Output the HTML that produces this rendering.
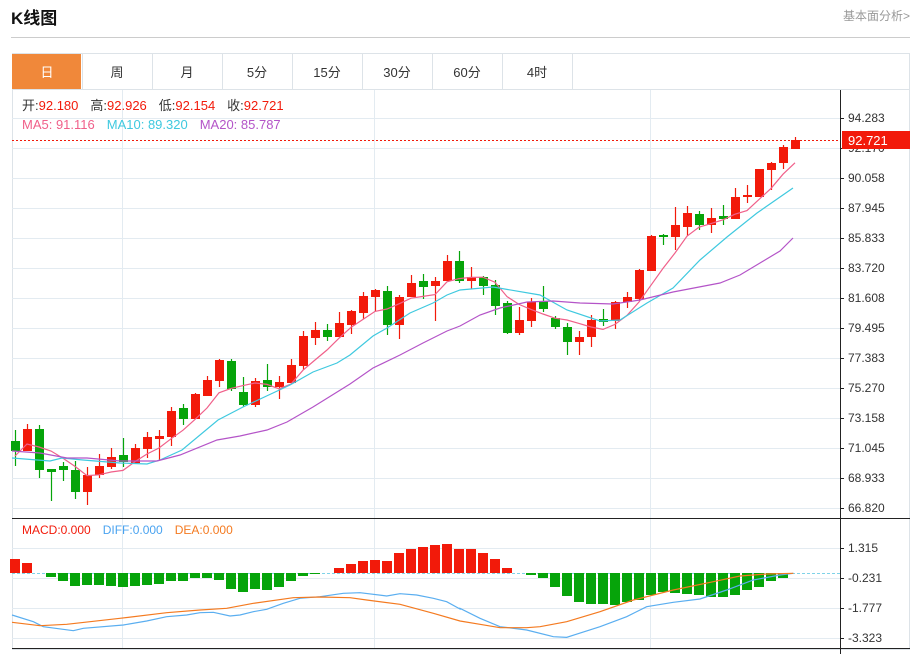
<!DOCTYPE html>
<html><head><meta charset="utf-8"><style>
body{margin:0;background:#fff;width:920px;height:654px;overflow:hidden;font-family:"Liberation Sans","Noto Sans CJK SC",sans-serif;}
</style></head><body>
<svg id="s" width="920" height="654" xmlns="http://www.w3.org/2000/svg" style="position:absolute;left:0;top:0">
<text x="11" y="24" font-size="17" font-weight="bold" fill="#111" font-family="Liberation Sans,Noto Sans CJK SC,sans-serif">K线图</text>
<text x="843" y="20" font-size="12" fill="#999" font-family="Liberation Sans,Noto Sans CJK SC,sans-serif">基本面分析&gt;</text>
<line x1="11" y1="37.5" x2="910" y2="37.5" stroke="#ccc"/>
<rect x="12.5" y="53.5" width="897" height="596" fill="none" stroke="#dde3e8"/>
<rect x="12" y="54" width="69" height="35" fill="#f0883a"/>
<line x1="12" y1="89.5" x2="910" y2="89.5" stroke="#dde3e8"/>
<g id="g"></g>
</svg>
<script>
var g=document.getElementById('g'),h='';
function L(x1,y1,x2,y2,c,w,d){h+='<line x1="'+x1+'" y1="'+y1+'" x2="'+x2+'" y2="'+y2+'" stroke="'+c+'" stroke-width="'+(w||1)+'"'+(d?' stroke-dasharray="'+d+'"':'')+'/>';}
function T(x,y,t,c,s,a){h+='<text x="'+x+'" y="'+y+'" font-size="'+(s||12)+'" fill="'+c+'"'+(a?' text-anchor="'+a+'"':'')+' font-family="Liberation Sans,Noto Sans CJK SC,sans-serif">'+t+'</text>';}
function P(pts,c){h+='<polyline fill="none" stroke="'+c+'" stroke-width="1.2" points="'+pts.map(function(p){return p.join(',')}).join(' ')+'"/>';}
var tabs=['日','周','月','5分','15分','30分','60分','4时'];
for(var i=0;i<8;i++){var x=12+70*i;if(i>0)L(x+0.5,54,x+0.5,89,'#dde3e8');T(x+35,77,tabs[i],i==0?'#fff':'#333',13,'middle');}
L(572.5,54,572.5,89,'#dde3e8');
// grid
for(var y=118;y<=508;y+=30)L(12,y+.5,840,y+.5,'#e3ebf1');
for(var y=548;y<=638;y+=30)L(12,y+.5,840,y+.5,'#e3ebf1');
[122,374,650].forEach(function(x){L(x+.5,90,x+.5,649,'#e3ebf1');});
L(840.5,90,840.5,654,'#222');L(12,518.5,840,518.5,'#222');L(12,648.5,910,648.5,'#222');L(840,518.5,910,518.5,'#222');
var labs=['94.283','92.170','90.058','87.945','85.833','83.720','81.608','79.495','77.383','75.270','73.158','71.045','68.933','66.820'];
labs.forEach(function(t,k){var y=118+30*k;L(840,y+.5,844,y+.5,'#222');T(848,y+4,t,'#333',12);});
['1.315','-0.231','-1.777','-3.323'].forEach(function(t,k){var y=548+30*k;L(840,y+.5,844,y+.5,'#222');T(848,y+4,t,'#333',12);});
// candles [o,c,h,l]
var C=[[441,451,430,466],[451,429,424,451],[429,470,425,478],[470,471,469,501],[466,470,462,481],[470,492,461,499],[492,475,467,505],[475,466,454,478],[467,457,448,469],[455,462,438,467],
[463,448,444,463],[449,437,432,458],[439,436,430,460],[437,411,407,446],[408,419,404,425],[419,394,393,419],[396,380,376,396],[381,360,359,387],[361,389,359,391],[392,405,377,407],
[405,381,378,407],[380,387,364,391],[387,382,376,399],[383,365,359,383],[366,336,331,370],[338,330,322,345],[330,337,324,341],[337,323,312,337],[325,311,310,334],[313,296,292,319],
[297,290,289,311],[291,325,286,335],[325,297,295,339],[297,283,275,297],[281,287,274,299],[286,281,277,321],[281,261,255,281],[261,281,251,283],[281,277,267,289],[277,286,276,295],
[285,306,280,315],[303,333,301,334],[333,320,307,335],[321,302,298,327],[301,309,286,312],[318,327,316,329],[327,342,323,355],[342,337,331,355],[337,320,315,347],[320,321,309,326],
[321,302,301,329],[302,297,292,308],[299,270,269,301],[271,236,235,271],[235,237,234,245],[237,225,207,250],[227,213,206,236],[214,225,211,230],[225,218,208,233],[217,218,205,225],
[219,197,188,219],[197,195,185,203],[197,169,169,197],[170,163,162,190],[163,147,145,169],[149,140,137,149]];
C.forEach(function(d,i){var x=15+12*i,o=d[0],c=d[1],col=c<o?'#f21a0a':'#06a40a';if(c==o)col='#06a40a';
L(x+.5,d[2],x+.5,d[3],col,1.2);var t=Math.min(o,c),b=Math.max(o,c);if(b-t<2){t-=1;b+=1;}
h+='<rect x="'+(x-4)+'" y="'+t+'" width="9" height="'+(b-t)+'" fill="'+col+'"/>';});
// MA5
var m5=[[15,456],[27,444],[39,447],[51,451]];
for(var i=4;i<C.length;i++){var s=0;for(var k=0;k<5;k++)s+=C[i-k][1];m5.push([15+12*i,s/5]);}
P(m5,'#f0608a');
P([[12,458],[50,461],[62,458],[83,460],[120,463],[147,464],[160,460],[182,450],[218,420],[243,407],[273,393],[290,385],[313,372],[337,363],[350,355],[373,336],[387,328],[410,313],[433,303],[447,295],[460,290],[493,287],[540,295],[567,310],[600,321],[620,320],[647,303],[673,288],[700,260],[727,237],[757,213],[793,188]],'#3fc9df');
P([[12,451],[40,453],[67,458],[87,458],[120,461],[157,461],[180,455],[217,440],[240,436],[267,430],[287,422],[313,407],[350,384],[373,368],[400,355],[423,343],[447,331],[460,326],[480,315],[500,308],[527,302],[553,301],[580,303],[613,304],[640,300],[673,292],[720,283],[740,275],[760,263],[780,251],[793,238]],'#b454c8');
// price marker
L(12,140.5,840,140.5,'#f21a0a',1,'2,2');
h+='<rect x="842" y="131" width="68" height="18" fill="#f21a0a"/>';T(848,145,'92.721','#fff',13);
// info
h+='<text x="22" y="110" font-size="13" font-family="Liberation Sans,Noto Sans CJK SC,sans-serif"><tspan fill="#333">开:</tspan><tspan fill="#f21a0a">92.180</tspan><tspan fill="#333" dx="12">高:</tspan><tspan fill="#f21a0a">92.926</tspan><tspan fill="#333" dx="12">低:</tspan><tspan fill="#f21a0a">92.154</tspan><tspan fill="#333" dx="12">收:</tspan><tspan fill="#f21a0a">92.721</tspan></text>';
h+='<text x="22" y="129" font-size="13" font-family="Liberation Sans,Noto Sans CJK SC,sans-serif"><tspan fill="#f0608a">MA5: 91.116</tspan><tspan fill="#3fc9df" dx="12">MA10: 89.320</tspan><tspan fill="#b454c8" dx="12">MA20: 85.787</tspan></text>';
h+='<text x="22" y="534" font-size="12" font-family="Liberation Sans,Noto Sans CJK SC,sans-serif"><tspan fill="#f21a0a">MACD:0.000</tspan><tspan fill="#4aa3f0" dx="12">DIFF:0.000</tspan><tspan fill="#f47a20" dx="12">DEA:0.000</tspan></text>';
// MACD bars
var M=[559,563,573,577,581,586,585,585,586,587,586,585,584,581,581,578,578,580,589,592,589,590,587,581,576,574,573,568,564,561,560,561,553,549,547,545,544,549,549,553,559,568,573,575,578,587,596,602,604,604,605,602,600,595,592,593,594,595,597,597,595,590,587,581,578,573];
L(12,573.5,840,573.5,'#7fd3e8',1,'3,2');
M.forEach(function(v,i){var x=15+12*i;if(Math.abs(v-573)<1)return;var col=v<573?'#f21a0a':'#06a40a';var t=Math.min(v,573),b=Math.max(v,573);
h+='<rect x="'+(x-5)+'" y="'+t+'" width="10" height="'+(b-t)+'" fill="'+col+'"/>';});
function cv(a,ox){return a.map(function(p){return [ox+p[0]/3,515+p[1]/3];});}
P(cv([[36,300],[100,320],[130,335],[220,347],[250,340],[370,330],[440,318],[500,305],[560,300],[600,293],[640,292],[690,303],[720,300],[760,290],[800,283],[850,265],[900,250],[960,245],[1030,235],[1080,233],[1160,243],[1200,236],[1250,240],[1300,250],[1340,260],[1380,282]],0).concat(cv([[0,280],[60,310],[120,335],[200,345],[280,365],[320,367],[420,335],[500,305],[560,275],[640,262],[720,252],[800,225],[880,195],[960,180],[1000,175]],460)),'#5aaef0');
P(cv([[36,322],[120,332],[200,328],[360,310],[500,293],[600,285],[680,280],[760,265],[880,248],[960,246],[1050,248],[1100,255],[1200,268],[1300,295],[1380,318]],0).concat(cv([[0,318],[60,328],[120,338],[200,338],[240,335],[320,320],[420,290],[520,255],[640,225],[760,200],[840,183],[920,177],[1000,175]],460)),'#f47a20');
g.innerHTML=h;
</script>
</body></html>
